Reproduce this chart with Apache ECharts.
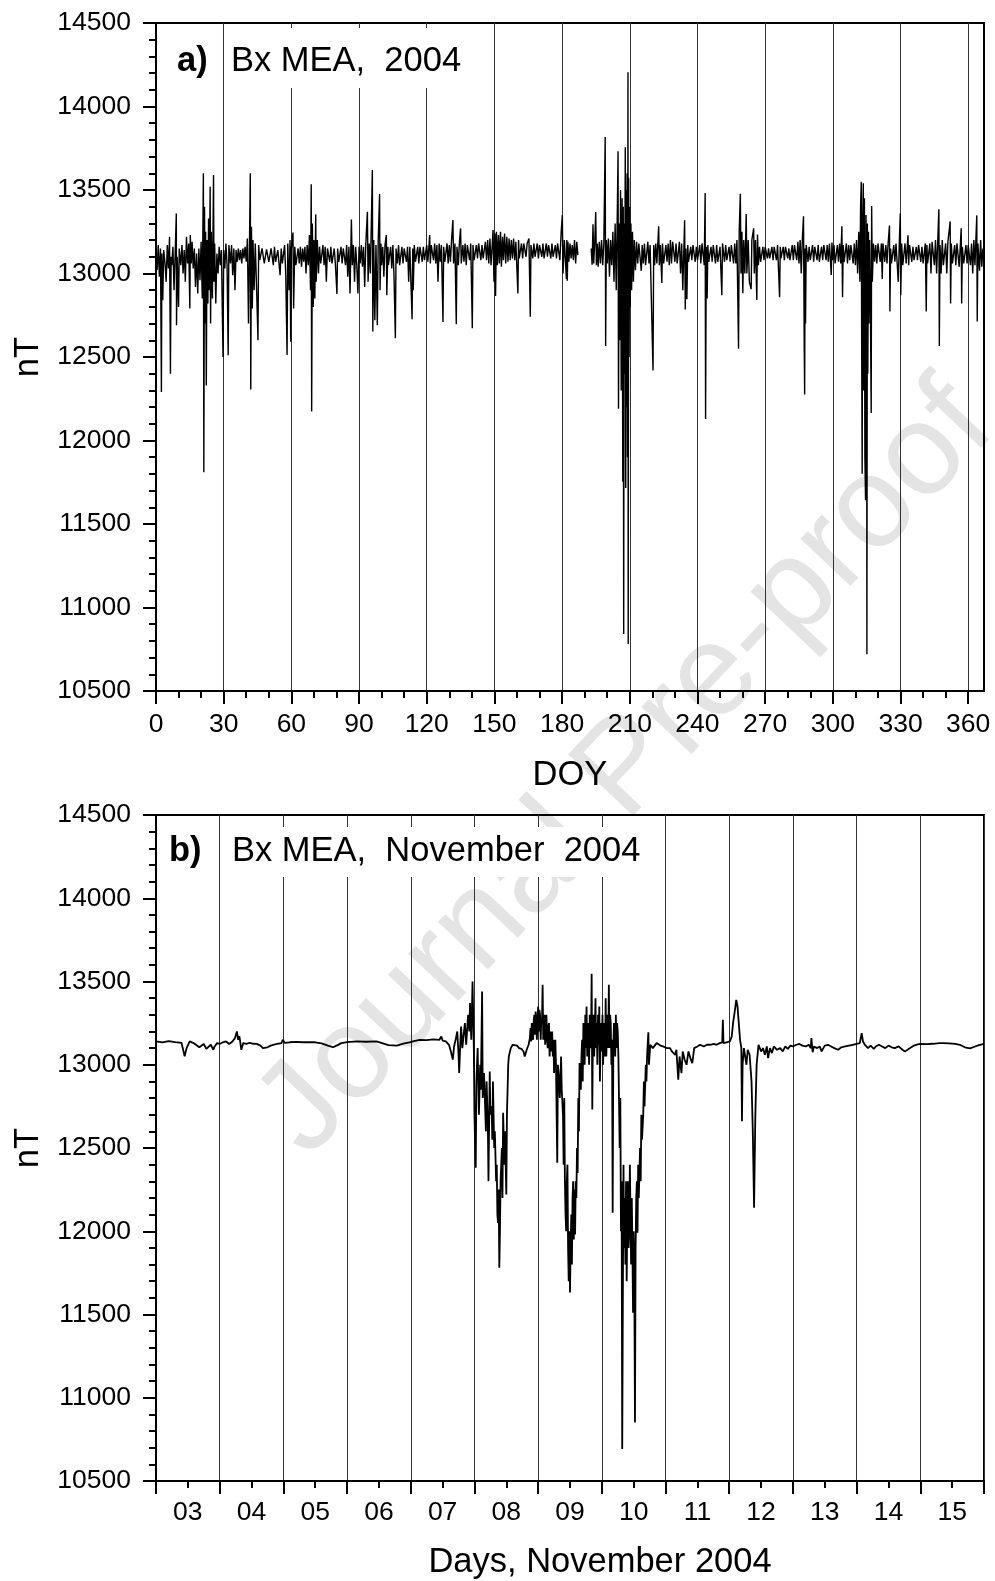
<!DOCTYPE html>
<html><head><meta charset="utf-8">
<script src="https://cdn.jsdelivr.net/npm/echarts@6/dist/echarts.min.js"></script>
<style>html,body{margin:0;padding:0;background:#fff}#c{width:995px;height:1581px}</style>
</head><body><div id="c"></div>
<script>
// ---------- data ----------
const doyMajor = [0,30,60,90,120,150,180,210,240,270,300,330,360];
const doyMinor = [10,20,40,50,70,80,100,110,130,140,160,170,190,200,220,230,250,260,280,290,310,320,340,350];
const dayLabelPos = [3.5,4.5,5.5,6.5,7.5,8.5,9.5,10.5,11.5,12.5,13.5,14.5,15.5];
const dayLabels = ['03','04','05','06','07','08','09','10','11','12','13','14','15'];

// Panel a: Bx MEA 2004, [DOY, nT]
const bxYear = [
[0,13130],[0.5,13020],[1,13170],[1.5,12980],[2,13150],[2.4,12290],[2.6,13120],[3,12840],[3.4,13140],[4,13060],[4.5,12950],[5,13170],[5.5,13030],[6,13220],[6.4,12400],[6.7,13100],[7,13050],[7.5,13160],[8,12900],[8.5,13120],[9,13360],[9.1,12690],[9.4,13100],[10,12800],[10.3,13150],[11,13050],[11.5,13170],[12,13000],[12.5,13140],[13,12950],[13.5,13220],[14,13060],[14.5,13180],[15,12790],[15.2,13230],[15.6,13060],[16,13190],[16.5,13030],[17,13150],[17.5,12920],[18,13120],[18.5,12880],[19,13150],[19.5,12960],[20,13190],[20.5,12850],[21,13600],[21.2,11810],[21.5,13400],[21.8,12700],[22,13250],[22.3,12330],[22.6,13200],[23,12820],[23.3,13330],[23.6,12900],[24,13520],[24.2,12700],[24.5,13250],[25,12850],[25.5,13590],[25.7,12950],[26,13180],[26.5,12820],[27,13120],[27.5,13000],[28,13160],[28.5,13050],[29,13140],[29.7,12500],[30,13140],
[30.5,13030],[31,13180],[31.5,13050],[32,12510],[32.3,13170],[33,13060],[33.5,13170],[34,12990],[34.5,13150],[35,12900],[35.5,13140],[36,13070],[36.5,13150],[37,13080],[37.5,13140],[38,13060],[38.5,13150],[39,13090],[39.5,13160],[40,13070],[40.5,13210],[41,12700],[41.5,13250],[41.8,13600],[42,12306],[42.3,13280],[42.7,12790],[43,13200],[43.5,12900],[44,13180],[44.5,12950],[45.2,12600],[45.5,13170],[46,13080],
[47,13150],[48,13060],[49,13145],[50,13070],[51,13150],[52,13050],[52.5,13160],[53,13070],[54,13140],[55,12990],[55.5,13150],[56,13060],
[57,13170],[57.5,13000],[58.1,12512],[58.4,13180],[59,12900],[59.4,13200],[59.7,12592],[60,13150],[60.7,13245],[61,12790],[61.5,13160],[62,13050],
[63,13150],[63.5,13060],[64,13160],[64.5,13040],[65,13150],[65.5,13070],[66,13160],[66.5,13000],[67,13170],[67.5,13050],[68,13230],
[68.5,12900],[68.8,13534],[69,12173],[69.3,13300],[69.7,12800],[70,13200],[70.4,12850],[70.8,13354],[71,12950],[71.5,13200],[72,13000],[72.5,13160],
[73,13060],[74,13170],[74.5,13050],[75,13160],[75.5,12950],[76,13150],[77,13070],[77.5,13160],[78,13060],[79,13150],[79.5,13060],[80.2,12877],[80.5,13150],[81,13070],[82,13160],[82.5,13060],[83,13150],[84,13050],[84.5,13170],[85,12980],[85.5,13160],
[86,12880],[86.6,13324],[87,13050],[87.5,13170],[88,12950],[88.5,13160],[89,13050],[89.5,12881],[90,13160],[90.5,13060],[91,13170],[91.5,13040],[92,13160],[92.5,12920],[93,13180],[93.7,13370],[94,12950],[94.5,13180],[95,13000],[95.9,13620],[96.1,12652],[96.5,13200],[97,12720],[97.5,13170],[98.1,12690],[98.5,13200],[99.1,13476],[99.3,12900],[99.7,13180],[100,13050],
[100.5,13160],[101,12980],[101.5,13170],[102.1,13231],[102.3,12870],[102.8,13160],[103,13050],[104,13160],[104.5,13030],[105,13170],[105.5,12980],[106.1,12612],[106.4,13150],[107,13060],[107.5,13170],[108,13050],[109,13160],[109.5,13060],[110,13150],[111,13070],[111.5,13160],[112,12950],[112.5,13160],[113.5,12726],[113.8,13150],[114,12900],[114.5,13170],[115,13070],[116,13160],[116.5,13060],[117,13160],[118,13070],[118.5,13160],[119,13080],[120,13170],[120.5,13070],[121.3,13230],[121.6,13060],[122,13170],
[123,13080],[123.5,13180],[124,13060],[124.5,13170],[125,12950],[125.5,13180],[126,13070],[126.5,13170],[127.2,12710],[127.5,13160],[128,13070],[129,13180],[129.5,13060],[130,13170],[130.5,13070],[131,13200],[131.6,13320],[131.9,13060],[132.5,13180],[133.1,12696],[133.4,13160],[134,13050],[134.5,13190],[135,13270],[135.3,13060],[136,13170],[136.5,13070],[137,13180],[137.5,13050],[138,13170],[139,13080],[139.5,13180],[140.2,12672],[140.5,13170],[141,13080],[142,13170],[142.5,13090],[143,13180],[144,13080],[144.5,13170],[145,13090],
[146,13190],[146.5,13080],[147,13200],[147.5,13060],[148,13210],[148.5,13050],[149.4,13260],[149.8,12950],[150.2,13240],[150.5,12865],[150.9,13250],[151.3,13050],[151.8,13230],[152.2,13060],[152.7,13250],[153.1,13040],[153.6,13220],[154,13080],[154.5,13240],[155,13060],[155.5,13220],[156,13070],[156.5,13210],[157,13080],[157.5,13200],[158,13090],[158.5,13210],[159,13080],[159.5,13190],[160.4,12881],[160.7,13200],[161,13090],[162,13180],
[162.5,13090],[163,13180],[164,13100],[164.5,13180],[165.3,13210],[165.9,12741],[166.2,13170],[167,13090],[167.5,13180],[168,13100],[169,13180],[169.5,13090],[170,13170],[171,13100],[171.5,13180],[172,13090],[173,13180],[173.5,13100],[174,13170],[175,13090],[175.5,13180],[176,13100],[177,13170],[177.5,13090],[178,13180],[179,13080],[179.6,13250],[180.1,13350],[180.4,13000],[181,13200],[181.9,12967],[182.1,13200],[182.3,12957],[182.6,13190],[183,13070],[183.5,13180],[184,13090],[184.5,13170],[185,13080],[185.5,13200],[186,13060],[186.5,13190],[187,13110],
[190,'-'],
[192.9,13150],[193.3,13052],[193.7,13295],[194,13060],[194.5,13200],[194.9,13368],[195.2,13050],[195.6,13180],[196,13040],[196.5,13190],[197,13060],[197.5,13200],[198,13050],[198.5,13180],[199.1,13817],[199.3,12566],[199.6,13200],[200,13060],[200.5,13210],[201,12980],[201.5,13200],[202,13050],[202.5,13250],[203,12950],[203.5,13300],[204,12900],[204.5,13400],[204.8,13732],[205,12190],[205.3,13300],[205.6,12600],[205.9,13500],[206.2,12300],[206.6,13450],[206.9,11753],[207.1,13400],[207.3,10842],[207.5,13300],[207.7,12400],[208,13756],[208.2,11716],[208.4,13500],[208.6,12200],[208.8,13600],[209,11900],[209.2,14205],[209.3,10781],[209.5,13574],[209.7,12500],[209.9,13400],[210.2,12800],[210.5,13300],[210.8,12900],[211.2,13250],[211.6,12950],[212,13200],[212.5,13020],[213,13190],[213.5,13060],[214,13180],[215.1,13016],[215.5,13170],[216,13060],[216.5,13180],[217,13050],[218,13190],[218.5,13060],[219,13170],[220.3,12420],[220.6,13170],[221,13050],[221.5,13180],[222,13060],[222.8,13283],[223.1,13050],[223.6,13170],[224.2,12943],[224.5,13180],[225,13060],[226,13170],[226.5,13070],[227,13180],[227.5,13050],[228,13200],[228.5,13060],[229,13190],[230,13070],[230.5,13180],[231,13060],[232,13190],[232.5,13000],[233,13180],[233.5,12900],[234.3,13319],[234.6,12785],[234.9,13150],[235.3,12846],[235.7,13170],[236,13070],[237,13160],[237.5,13080],[238,13170],[239,13070],[239.5,13160],[240,13080],[241,13170],[241.5,13060],[242,13180],[243,13050],[243.4,13482],[243.6,12129],[243.9,13160],[244.3,12850],[244.6,13170],[245,13070],[246,13160],[246.5,13070],[247,13170],[248,13060],[248.5,13170],[249,13070],[250,13160],[250.8,12870],[251.1,13180],[252,13070],[252.5,13170],[253,13080],[254,13160],[254.5,13070],[255,13170],[256,13060],[256.5,13180],[257,13060],[257.5,13200],[258.2,12549],[258.5,13250],[259,13477],[259.3,13000],[259.7,13250],[260.1,12882],[260.5,13200],[261,13000],[261.6,13356],[261.9,13000],[262.5,13200],[263,12950],[263.8,12906],[264.1,13200],[264.9,13271],[265.2,13000],[265.7,13200],[266.3,12841],[266.6,13234],[267,13050],[267.5,13160],[268,13070],
[269,13160],[269.5,13080],[270,13160],[271,13090],[271.5,13150],[272,13090],[273,13160],[273.5,13080],[274,13160],[275,13080],[275.5,13170],[276.4,12858],[276.7,13160],[277,13090],[278,13160],[278.5,13080],[279,13160],[280,13090],[280.5,13150],[281,13080],[282,13170],[282.5,13080],[283,13170],[284,13080],[284.5,13190],[285,13060],[285.5,13200],[286,13000],[286.5,13210],[287,13343],[287.3,12600],[287.5,12275],[287.7,13150],[287.9,12700],[288.2,13170],[289,13070],[289.5,13160],
[290,13080],[291,13170],[291.5,13070],[292,13160],[293,13080],[293.5,13170],[294,13070],[295,13160],[295.5,13080],[296,13170],[297,13080],[297.5,13170],[298,13070],[298.5,13180],[299.3,12991],[299.6,13186],[300,13080],[300.5,13170],[301,13060],[302,13170],[302.5,13070],[303,13180],[303.5,13060],[304,13283],[304.3,12858],[304.6,13170],[305,13070],[306,13180],[306.5,13060],[307,13170],[307.5,13080],[308,13170],[309,13060],[309.5,13180],[310,13050],[310.5,13200],[311,13000],[311.5,13250],[312,12950],
[312.3,13400],[312.6,13550],[312.8,12500],[313,11801],[313.2,13300],[313.5,13540],[313.7,12300],[314,13450],[314.2,11900],[314.5,11643],[314.7,13350],[315,12600],[315.1,10720],[315.3,13300],[315.5,12400],[315.8,13250],[316,12700],[316.3,13200],[316.6,12900],[317,12165],[317.2,13404],[317.5,12950],[318,13180],
[318.5,13070],[319,13170],[319.5,13060],[320,13180],[321,13070],[321.5,13180],[321.9,12967],[322.2,13180],[323,13070],[323.5,13170],[324,13060],[324.5,13180],[325.1,13287],[325.3,12773],[325.6,13150],[326,13060],[327,13170],[327.5,13070],[328,13180],[329,12950],[329.5,13200],[329.9,13360],[330.1,12870],[330.5,13180],[331,13050],[332,13180],[332.5,13060],[333.3,13229],[333.6,13050],[334,13170],[335,13070],[335.5,13160],[336,13080],[337,13160],[337.5,13080],[338,13170],[339,13070],[339.5,13160],[340,13060],[341,13180],[341.4,12773],[341.7,13170],[342,13060],[343,13180],[343.5,13000],[344,13190],[345,13050],[345.5,13200],[346,13000],[347,13384],[347.2,12566],[347.5,13170],[348,13000],[348.5,13200],[349,13050],[350,13180],[350.5,13000],[351,13190],[352,13312],[352.2,12821],[352.5,13180],[353,13060],[354,13170],[354.5,13050],[355,13180],[356,13040],[356.9,13271],[357.1,12821],[357.4,13160],[358,13060],[359,13170],[359.5,13060],[360,13170],[361,13050],[361.5,13180],[362,13000],[362.5,13200],[363,13050],[363.8,13348],[364,12712],[364.3,13180],[365,13016],[365.5,13200],[366,13040],[366.5,13150],[366.8,13090]
];

// Panel b: Bx MEA November 2004, [day of month, nT]
const bxNov = [
[3.0,13140],[3.1,13135],[3.2,13142],[3.3,13136],[3.4,13132],[3.45,13051],[3.48,13100],[3.53,13140],[3.6,13128],[3.63,13135],[3.68,13105],[3.71,13100],[3.75,13125],[3.79,13095],[3.82,13105],[3.86,13120],[3.9,13090],[3.92,13110],[3.96,13130],[4.0,13125],[4.05,13135],[4.1,13140],[4.15,13125],[4.2,13140],[4.24,13160],[4.27,13200],[4.29,13150],[4.31,13170],[4.34,13090],[4.37,13130],[4.42,13125],[4.47,13132],[4.53,13126],[4.58,13125],[4.64,13115],[4.68,13100],[4.71,13095],[4.75,13105],[4.8,13115],[4.84,13120],[4.9,13125],[4.97,13130],[4.99,13150],[5.02,13132],[5.1,13135],[5.2,13137],[5.3,13135],[5.4,13136],[5.5,13135],[5.6,13128],[5.7,13115],[5.78,13105],[5.85,13118],[5.91,13130],[6.0,13136],[6.15,13140],[6.3,13138],[6.46,13140],[6.55,13130],[6.65,13118],[6.78,13115],[6.9,13128],[6.98,13135],[7.05,13142],[7.14,13150],[7.25,13148],[7.35,13152],[7.45,13150],[7.48,13170],[7.5,13145],[7.55,13140],[7.6,13120],
[7.63,13080],[7.66,13031],[7.68,13110],[7.71,13160],[7.73,13200],[7.75,13060],[7.76,12951],[7.78,13150],[7.79,13230],[7.81,13100],[7.83,13180],[7.85,13250],[7.87,13120],[7.9,13300],[7.92,13200],[7.93,13370],[7.95,13150],[7.97,13500],[7.99,13100],[8.0,12700],[8.02,12381],[8.03,12900],[8.05,13100],[8.07,12700],[8.09,13000],[8.1,12850],[8.12,13440],[8.13,12800],[8.15,12950],[8.18,12600],[8.19,12900],[8.21,12650],[8.22,12301],[8.24,12960],[8.25,12700],[8.27,12750],[8.28,12550],[8.29,12900],[8.31,12500],[8.32,12600],[8.34,12300],[8.35,12400],[8.36,12100],[8.37,12050],[8.38,12250],[8.39,11781],[8.4,12000],[8.41,12300],[8.43,12500],[8.44,12200],[8.45,12711],[8.47,12400],[8.48,12600],[8.5,12221],[8.51,12700],[8.53,13000],[8.54,13050],[8.57,13100],[8.6,13120],
[8.63,13110],[8.67,13115],[8.7,13100],[8.74,13095],[8.77,13080],[8.79,13050],[8.82,13090],[8.85,13120],
[8.87,13160],[8.88,13220],[8.89,13140],[8.9,13250],[8.91,13180],[8.92,13150],[8.93,13260],[8.94,13300],[8.95,13180],[8.96,13320],[8.97,13250],[8.98,13150],[8.99,13280],[9.0,13350],[9.01,13200],[9.02,13330],[9.03,13300],[9.04,13150],[9.05,13280],[9.06,13250],[9.07,13480],[9.08,13150],[9.09,13260],[9.1,13300],[9.11,13120],[9.12,13200],[9.13,13300],[9.14,13150],[9.15,13100],[9.16,13230],[9.17,13250],[9.18,13050],[9.19,13200],[9.2,13150],[9.21,13080],[9.22,13200],[9.23,13050],[9.24,13150],[9.25,12950],[9.26,13100],[9.27,13150],[9.28,13000],
[9.3,12411],[9.31,13000],[9.33,12900],[9.34,12800],[9.36,13050],[9.37,12850],[9.39,12700],[9.4,12400],[9.41,12800],[9.42,12301],[9.43,12100],[9.44,12000],[9.45,12300],[9.46,12400],[9.47,11900],[9.48,11700],[9.49,12000],[9.5,11632],[9.51,11900],[9.52,12100],[9.53,11800],[9.54,12200],[9.55,12300],[9.56,11950],[9.57,12250],[9.58,11980],[9.59,12300],[9.6,12200],[9.61,12500],[9.62,12350],[9.63,12800],[9.64,12600],[9.65,13011],
[9.67,12850],[9.68,13050],[9.69,13150],[9.7,12900],[9.71,13250],[9.72,13080],[9.73,13000],[9.74,13300],[9.75,13100],[9.76,13350],[9.77,13050],[9.78,13200],[9.79,13250],[9.8,13000],[9.81,13300],[9.82,13100],[9.83,13150],[9.84,13546],[9.85,12731],[9.86,13200],[9.87,13300],[9.88,13050],[9.89,13200],[9.9,13400],[9.91,13100],[9.92,13250],[9.93,13000],[9.94,13300],[9.95,13120],[9.96,13350],[9.97,12900],[9.98,13150],[9.99,13250],[10.0,13080],[10.01,13300],[10.02,13000],[10.03,13250],[10.04,13200],[10.05,13050],[10.06,13400],[10.07,13050],[10.08,13200],[10.09,13300],[10.1,13100],[10.11,13480],[10.12,13100],[10.13,13300],[10.14,13250],[10.15,13000],[10.16,13150],[10.17,12111],[10.18,13100],[10.19,13250],[10.2,13200],[10.21,13050],[10.22,13300],[10.23,13100],[10.24,13250],[10.25,13200],[10.26,13050],
[10.28,12500],[10.29,12800],[10.3,12000],[10.31,12300],[10.32,10692],[10.33,11600],[10.34,12400],[10.35,11900],[10.36,12200],[10.37,11800],[10.38,12300],[10.39,11700],[10.4,12100],[10.41,12300],[10.42,11900],[10.43,12000],[10.44,12400],[10.45,12100],[10.46,11800],[10.47,12200],[10.48,11900],[10.49,11511],[10.5,12000],[10.51,11700],[10.52,10852],[10.53,11900],[10.54,12200],[10.55,12300],[10.56,11991],[10.57,12400],[10.58,12200],[10.6,12500],[10.61,12300],[10.62,12700],[10.63,12550],[10.65,12700],[10.66,12900],[10.67,12750],[10.69,13000],[10.7,12900],[10.71,13050],[10.73,13195],[10.74,13000],[10.76,13120],
[10.8,13100],[10.86,13130],[10.92,13115],[10.96,13110],[11.02,13100],[11.07,13100],[11.1,13080],[11.15,13060],[11.17,13090],[11.2,12910],[11.22,13050],[11.25,12950],[11.27,13080],[11.3,13030],[11.33,13000],[11.36,13080],[11.39,13040],[11.42,13010],[11.45,13100],[11.5,13110],[11.54,13120],[11.6,13110],[11.65,13120],[11.7,13120],[11.76,13125],[11.8,13120],[11.85,13130],[11.89,13135],[11.9,13270],[11.91,13130],[11.96,13135],[12.01,13140],[12.04,13170],[12.06,13250],[12.09,13330],[12.11,13390],[12.13,13350],[12.15,13250],[12.17,13150],[12.19,13100],[12.2,12661],[12.21,13000],[12.23,13100],[12.25,13050],[12.27,13000],[12.29,13090],[12.32,13060],[12.35,12900],[12.37,12600],[12.39,12141],[12.41,12700],[12.43,13000],[12.46,13120],[12.5,13080],[12.53,13100],[12.56,13060],[12.59,13110],[12.61,13040],[12.64,13100],[12.67,13070],[12.7,13110],[12.75,13090],[12.8,13100],[12.84,13080],[12.88,13110],[12.92,13095],[12.96,13115],[13.0,13110],
[13.05,13120],[13.1,13125],[13.15,13115],[13.2,13110],[13.25,13120],[13.28,13100],[13.29,13160],[13.31,13075],[13.33,13110],[13.38,13100],[13.42,13110],[13.45,13080],[13.5,13115],[13.55,13120],[13.6,13110],[13.65,13100],[13.71,13090],[13.76,13105],[13.82,13110],[13.88,13115],[13.94,13120],[14.0,13125],[14.05,13130],[14.08,13190],[14.1,13140],[14.13,13120],[14.18,13100],[14.22,13115],[14.27,13095],[14.3,13110],[14.35,13120],[14.4,13110],[14.45,13100],[14.5,13115],[14.55,13105],[14.6,13100],[14.66,13110],[14.72,13090],[14.76,13080],[14.79,13075],[14.84,13100],[14.9,13115],[14.96,13122],[15.0,13125],[15.1,13124],[15.2,13126],[15.3,13130],[15.36,13130],[15.45,13128],[15.55,13125],[15.62,13120],[15.7,13105],[15.78,13098],[15.85,13108],[15.92,13118],[16.0,13125]
];

// ---------- chart ----------
const FONT = "'Liberation Sans', Arial, Helvetica, sans-serif";
const chart = echarts.init(document.getElementById('c'), null, {renderer: 'canvas', width: 995, height: 1581});

function yAxisCfg(gridIndex) {
  return {
    gridIndex, type: 'value', min: 10500, max: 14500, interval: 500,
    axisLine: {show: true, lineStyle: {color: '#000', width: 2}},
    axisTick: {show: true, inside: false, length: 13, lineStyle: {color: '#000', width: 2}},
    minorTick: {show: true, splitNumber: 5, length: 7, lineStyle: {color: '#000', width: 2}},
    axisLabel: {color: '#000', fontSize: 26.5, fontFamily: FONT, margin: 25, formatter: v => String(v)},
    splitLine: {show: false},
    name: 'nT', nameLocation: 'middle', nameGap: 97,
    nameTextStyle: {color: '#000', fontSize: 34.5, fontFamily: FONT}
  };
}

const option = {
  animation: false,
  backgroundColor: '#fff',
  graphic: [{
    type: 'text', x: 627, y: 770, rotation: 46.6 * Math.PI / 180, z: -10,
    style: {text: 'Journal Pre-proof', fontSize: 130, fontFamily: FONT, fill: '#e4e4e4', align: 'center', verticalAlign: 'middle'}
  }],
  title: [
    {text: 'a)', left: 177, top: 44, padding: 0, textStyle: {fontSize: 34.5, fontWeight: 'bold', color: '#000', fontFamily: FONT}},
    {text: 'Bx MEA,  2004', left: 226, top: 28, padding: [16, 16, 9, 5], backgroundColor: '#fff',
     textStyle: {fontSize: 34.5, fontWeight: 'normal', color: '#000', fontFamily: FONT}},
    {text: 'b)', left: 169, top: 834, padding: 0, textStyle: {fontSize: 34.5, fontWeight: 'bold', color: '#000', fontFamily: FONT}},
    {text: 'Bx MEA,  November  2004', left: 226, top: 827, padding: [7, 14, 8, 6], backgroundColor: '#fff',
     textStyle: {fontSize: 34.5, fontWeight: 'normal', color: '#000', fontFamily: FONT}}
  ],
  grid: [
    {left: 156, top: 23, width: 828, height: 668, show: true, borderColor: '#000', borderWidth: 2, backgroundColor: 'transparent'},
    {left: 156, top: 815, width: 828, height: 667, show: true, borderColor: '#000', borderWidth: 2, backgroundColor: 'transparent'}
  ],
  xAxis: [
    {
      gridIndex: 0, type: 'value', min: 0, max: 367, interval: 30, position: 'bottom',
      axisLine: {show: true, onZero: false, lineStyle: {color: '#000', width: 2}},
      axisTick: {show: true, inside: false, length: 13, customValues: doyMajor, lineStyle: {color: '#000', width: 2}},
      axisLabel: {color: '#000', fontSize: 26.5, fontFamily: FONT, margin: 20, customValues: doyMajor},
      splitLine: {show: true, lineStyle: {color: '#333', width: 1}},
      name: 'DOY', nameLocation: 'middle', nameGap: 67,
      nameTextStyle: {color: '#000', fontSize: 34.5, fontFamily: FONT}
    },
    {
      gridIndex: 0, type: 'value', min: 0, max: 367, position: 'bottom', offset: 0,
      axisLine: {show: false, onZero: false},
      axisTick: {show: true, inside: false, length: 7, customValues: doyMinor, lineStyle: {color: '#000', width: 2}},
      axisLabel: {show: false},
      splitLine: {show: false}
    },
    {
      gridIndex: 1, type: 'value', min: 3, max: 16, interval: 1, position: 'bottom',
      axisLine: {show: true, onZero: false, lineStyle: {color: '#000', width: 2}},
      axisTick: {show: true, inside: false, length: 13, lineStyle: {color: '#000', width: 2}},
      minorTick: {show: true, splitNumber: 2, length: 7, lineStyle: {color: '#000', width: 2}},
      axisLabel: {color: '#000', fontSize: 26.5, fontFamily: FONT, margin: 18, customValues: dayLabelPos,
        formatter: v => dayLabels[Math.floor(v) - 3] || ''},
      splitLine: {show: true, lineStyle: {color: '#333', width: 1}},
      name: 'Days, November 2004', nameLocation: 'middle', nameGap: 64,
      nameTextStyle: {color: '#000', fontSize: 34.5, fontFamily: FONT, padding: [0, 0, 0, 60]}
    }
  ],
  yAxis: [yAxisCfg(0), yAxisCfg(1)],
  series: [
    {type: 'line', xAxisIndex: 0, yAxisIndex: 0, data: bxYear, showSymbol: false, symbol: 'none',
     connectNulls: false, lineStyle: {color: '#000', width: 1.4}, z: 3},
    {type: 'line', xAxisIndex: 2, yAxisIndex: 1, data: bxNov, showSymbol: false, symbol: 'none',
     lineStyle: {color: '#000', width: 1.8}, z: 3}
  ]
};
chart.setOption(option);
</script></body></html>
